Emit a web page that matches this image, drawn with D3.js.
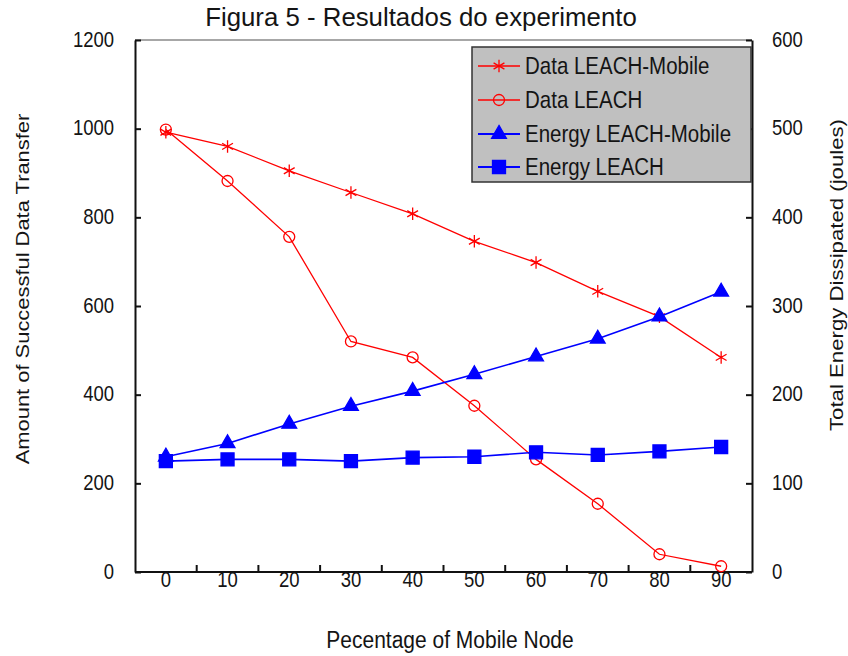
<!DOCTYPE html>
<html>
<head>
<meta charset="utf-8">
<script src="https://cdn.jsdelivr.net/npm/d3@7"></script>
<style>
  body { margin: 0; background: #fff; }
  text { font-family: "Liberation Sans", Arial, sans-serif; fill: #141414; }
</style>
</head>
<body>
<svg width="848" height="656"></svg>
<script>
var pct = ["0", "10", "20", "30", "40", "50", "60", "70", "80", "90"];
var dataMobile = [992, 960, 905, 856, 808, 746, 698, 633, 576, 484];
var dataLeach = [998, 882, 756, 520, 484, 375, 254, 154, 40, 13];
var energyMobile = [130, 145, 167, 187, 204, 223, 243, 263, 288, 316];
var energyLeach = [125, 127, 127, 125, 129, 130, 135, 132, 136, 141];
var leftTicks = [0, 200, 400, 600, 800, 1000, 1200];
var rightTicks = [0, 100, 200, 300, 400, 500, 600];

var svg = d3.select("svg");
var m = {left: 135, right: 752, top: 40, bottom: 572};
var stretch = 1.16; // chart text is vertically stretched

var x = d3.scaleBand().domain(pct).range([m.left, m.right]);
var yL = d3.scaleLinear().domain([0, 1200]).range([m.bottom, m.top]);
var yR = d3.scaleLinear().domain([0, 600]).range([m.bottom, m.top]);

// stretched text helper
function label(g, tx, ty, str, size, anchor, sy) {
  return g.append("text")
      .attr("transform", "translate(" + tx + "," + ty + ") scale(1," + (sy || stretch) + ")")
      .attr("text-anchor", anchor)
      .style("font-size", size + "px")
      .text(str);
}
// rotated labels: stretch along the text direction
function vlabel(tx, ty, str, size, sx) {
  return svg.append("text")
      .attr("transform", "translate(" + tx + "," + ty + ") rotate(-90) scale(" + sx + ",1)")
      .attr("text-anchor", "middle")
      .style("font-size", size + "px")
      .text(str);
}

// title
svg.append("text")
    .attr("x", 421).attr("y", 26)
    .attr("text-anchor", "middle")
    .style("font-size", "25.8px")
    .text("Figura 5 - Resultados do experimento");

// frame
svg.append("line").attr("x1", m.left).attr("x2", m.right).attr("y1", m.top).attr("y2", m.top)
    .attr("stroke", "#8a8a8a").attr("stroke-width", 1.5);

// left axis
var gl = svg.append("g").attr("transform", "translate(" + m.left + ",0)")
    .call(d3.axisLeft(yL).tickValues(leftTicks).tickSize(-6).tickSizeOuter(0).tickFormat(""));
gl.select(".domain").attr("stroke", "#111").attr("stroke-width", 2);
gl.selectAll(".tick line").attr("stroke", "#111").attr("stroke-width", 2);
leftTicks.forEach(function(v) {
  label(svg, m.left - 21, yL(v) + 6.5, v, 18.5, "end");
});

// right axis
var gr = svg.append("g").attr("transform", "translate(" + m.right + ",0)")
    .call(d3.axisRight(yR).tickValues(rightTicks).tickSize(-6).tickSizeOuter(0).tickFormat(""));
gr.select(".domain").attr("stroke", "#111").attr("stroke-width", 2);
gr.selectAll(".tick line").attr("stroke", "#111").attr("stroke-width", 2);
rightTicks.forEach(function(v) {
  label(svg, m.right + 20, yR(v) + 6.5, v, 18.5, "start");
});

// bottom axis
svg.append("line").attr("x1", m.left).attr("x2", m.right).attr("y1", m.bottom).attr("y2", m.bottom)
    .attr("stroke", "#111").attr("stroke-width", 2);
svg.append("g").selectAll("line")
    .data(pct.slice(1))
    .enter().append("line")
    .attr("x1", function(d) { return x(d); })
    .attr("x2", function(d) { return x(d); })
    .attr("y1", m.bottom).attr("y2", m.bottom - 7)
    .attr("stroke", "#111").attr("stroke-width", 2);
pct.forEach(function(c) {
  label(svg, x(c) + x.bandwidth() / 2, 587, c, 18.5, "middle");
});

// axis titles
label(svg, 450, 648, "Pecentage of Mobile Node", 21, "middle", 1.1);
vlabel(29, 289, "Amount of Successful Data Transfer", 18.5, 1.185);
vlabel(843, 275, "Total Energy Dissipated (joules)", 18.5, 1.2);

var series = [
  {name: "Data LEACH-Mobile", values: dataMobile, y: yL, color: "#ff0000", width: 1.3, symbol: d3.symbolAsterisk, size: 110, fill: "none"},
  {name: "Data LEACH", values: dataLeach, y: yL, color: "#ff0000", width: 1.3, symbol: d3.symbolCircle, size: 95, fill: "none"},
  {name: "Energy LEACH-Mobile", values: energyMobile, y: yR, color: "#0000ff", width: 1.6, symbol: d3.symbolTriangle, size: 95, fill: "#0000ff"},
  {name: "Energy LEACH", values: energyLeach, y: yR, color: "#0000ff", width: 1.6, symbol: d3.symbolSquare, size: 169, fill: "#0000ff"}
];

var line = d3.line();
series.forEach(function(s) {
  var pts = s.values.map(function(v, i) { return [x(pct[i]) + x.bandwidth() / 2, s.y(v)]; });
  svg.append("path")
      .attr("d", line(pts))
      .attr("fill", "none")
      .attr("stroke", s.color)
      .attr("stroke-width", s.width);
  svg.append("g").selectAll("path")
      .data(pts)
      .enter().append("path")
      .attr("transform", function(p) { return "translate(" + p[0] + "," + p[1] + ")"; })
      .attr("d", d3.symbol().type(s.symbol).size(s.size))
      .attr("fill", s.fill)
      .attr("stroke", s.color)
      .attr("stroke-width", 1.3);
});

// legend
var lg = svg.append("g");
lg.append("rect")
    .attr("x", 472).attr("y", 47).attr("width", 279).attr("height", 135)
    .attr("fill", "#c0c0c0").attr("stroke", "#333").attr("stroke-width", 1.5);
var rowY = [66, 100, 134, 167];
series.forEach(function(s, i) {
  lg.append("line").attr("x1", 478).attr("x2", 520).attr("y1", rowY[i]).attr("y2", rowY[i])
      .attr("stroke", s.color).attr("stroke-width", s.width + 0.4);
  lg.append("path")
      .attr("transform", "translate(499," + rowY[i] + ")")
      .attr("d", d3.symbol().type(s.symbol).size(s.size))
      .attr("fill", s.fill).attr("stroke", s.color).attr("stroke-width", 1.3);
  label(lg, 525, rowY[i] + 8, s.name, 20.5, "start", 1.2);
});
</script>
</body>
</html>
